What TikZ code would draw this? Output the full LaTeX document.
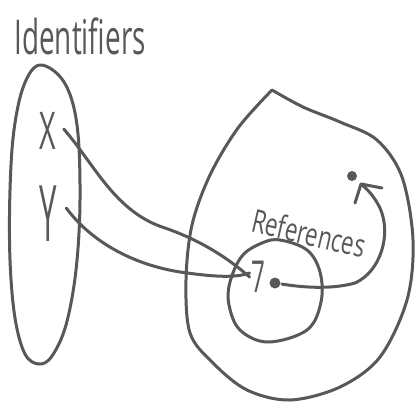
\documentclass[tikz,border=0pt]{standalone}
\usepackage{fontspec}
\setmainfont{Open Sans}
\usetikzlibrary{arrows.meta}
\definecolor{ink}{RGB}{88,88,88}
\begin{document}
\begin{tikzpicture}[x=1pt,y=-1pt,line width=3pt,draw=ink,line cap=round,line join=round,
  handtext/.style={inner sep=0pt,text=ink},
  dotnode/.style={fill=ink,draw=none,circle,inner sep=0pt,minimum size=9pt},
  link/.style={draw=ink,line width=3pt}]
\useasboundingbox (0,0) rectangle (417,405);
% texts
\node[handtext,anchor=base west,font=\fontsize{48}{48}\selectfont] (ident) at (13,54) {\scalebox{0.58}[1]{Identifiers}};
\node[handtext,font=\fontsize{52}{52}\selectfont] (X) at (48,131) {\scalebox{0.55}[1]{X}};
\node[handtext,font=\fontsize{78}{78}\selectfont] (Y) at (48,214) {\scalebox{0.4}[1]{Y}};
\node[handtext,font=\fontsize{44}{44}\selectfont] (seven) at (258,277) {\scalebox{0.55}[1]{7}};
\node[handtext,font=\fontsize{32}{32}\selectfont,rotate=-13] (refs) at (309,233) {\scalebox{0.7}[1]{References}};
% left set
\draw[link] plot[smooth cycle,tension=0.6] coordinates {(40,65) (64,82) (77,125) (80,200) (76,270) (66,325) (52,356) (39,364) (25,354) (15,318) (10,260) (10,190) (14,130) (24,85)};
% big set (pointed top)
\draw[link] plot[smooth,tension=0.55] coordinates {(272,90) (303,107) (340,122) (377,140) (402,177) (413,240) (407,300) (380,357) (340,387) (290,400) (247,390) (213,363) (190,333) (186,280) (192,225) (210,175) (238,128) (272,90)};
% small circle
\draw[link] plot[smooth cycle,tension=0.6] coordinates {(230,282) (242,256) (262,243) (280,240) (307,250) (320,272) (321,302) (307,330) (268,342) (240,330) (229,305)};
% dots
\node[dotnode,minimum width=10pt,minimum height=11pt] (d1) at (275,283) {};
\node[dotnode,minimum width=7pt,minimum height=10pt] (d2) at (352,176) {};
% connectors
\draw[link] (X.east) ++(6,-2) coordinate (xs) (xs) .. controls (95,165) and (115,212) .. (165,228) .. controls (200,240) and (228,258) .. (seven.west);
\draw[link] (Y.east) ++(8,-6) coordinate (ys) (ys) .. controls (90,240) and (130,264) .. (180,272) .. controls (215,277) and (235,278) .. ([yshift=4pt]seven.west);
\draw[link] (d1) .. controls (300,287) and (330,290) .. (355,283) .. controls (380,272) and (392,235) .. (380,208) .. controls (374,196) and (368,190) .. coordinate[pos=1] (tip) (361,184);
\draw[link] (382,188) -- (tip) -- (355,203);
\end{tikzpicture}
\end{document}
